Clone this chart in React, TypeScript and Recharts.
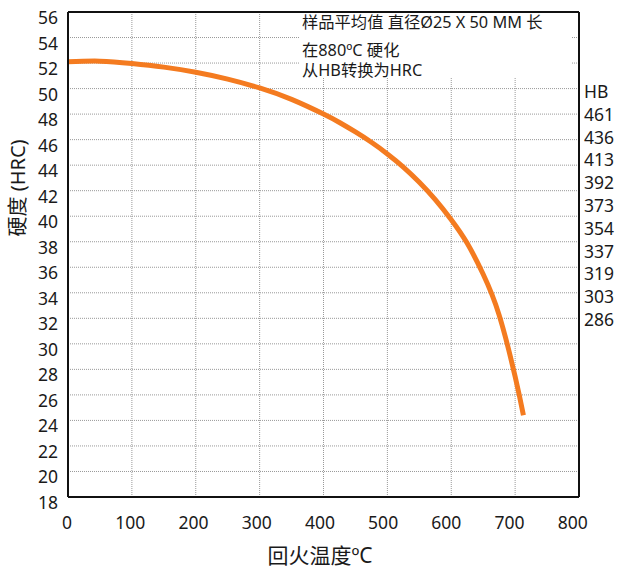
import React from "react";
import {
  LineChart,
  Line,
  XAxis,
  YAxis,
  CartesianGrid,
  ReferenceLine,
  ReferenceArea,
} from "recharts";

const temperatures = [0, 50, 100, 150, 200, 250, 300, 350, 400, 425, 450, 475, 500, 525, 550, 575, 600, 625, 650, 675, 700, 713];
const hardnessHRC = [52.1, 52.15, 51.97, 51.68, 51.28, 50.74, 50.05, 49.15, 48.0, 47.34, 46.6, 45.79, 44.88, 43.85, 42.66, 41.3, 39.73, 37.88, 35.45, 32.25, 27.44, 24.4];
const xTicks = [0, 100, 200, 300, 400, 500, 600, 700, 800];
const yTicks = [18, 20, 22, 24, 26, 28, 30, 32, 34, 36, 38, 40, 42, 44, 46, 48, 50, 52, 54, 56];
const hbLabels = ["HB", "461", "436", "413", "392", "373", "354", "337", "319", "303", "286"];
const noteLines = ["样品平均值 直径Ø25 X 50 MM 长", "在880ºC 硬化", "从HB转换为HRC"];
const xTitle = "回火温度ºC";
const yTitle = "硬度 (HRC)";

const data = temperatures.map((t, i) => ({ t, hrc: hardnessHRC[i] }));

const FONT = "'Noto Sans', 'Noto Sans CJK SC', sans-serif";
const TEXT = "#1a1a1a";

const YTick = (props: any) => {
  const { y, payload } = props;
  return (
    <text x={58} y={y + 5} textAnchor="end" dominantBaseline="central" fontSize={17.5} fill={TEXT} fontFamily={FONT}>
      {payload.value}
    </text>
  );
};

const XTick = (props: any) => {
  const { x, payload } = props;
  return (
    <text
      x={x - 1 - payload.value * 0.0065}
      y={522}
      textAnchor="middle"
      dominantBaseline="central"
      fontSize={17.5}
      fill={TEXT}
      fontFamily={FONT}
    >
      {payload.value}
    </text>
  );
};

export default function App() {
  return (
    <div style={{ position: "absolute", left: 0, top: 0, width: 619, height: 569, background: "#fff" }}>
      <LineChart width={619} height={569} data={data} margin={{ top: 12, right: 40, bottom: 0, left: 0 }}>
        <CartesianGrid stroke="#999" strokeDasharray="1 1" strokeWidth={1} />
        <XAxis
          dataKey="t"
          type="number"
          domain={[0, 800]}
          ticks={xTicks}
          height={72}
          tickLine={false}
          axisLine={{ stroke: "#111", strokeWidth: 2 }}
          tick={<XTick />}
          interval={0}
        />
        <YAxis
          type="number"
          domain={[18, 56]}
          ticks={yTicks}
          width={68}
          tickLine={false}
          axisLine={{ stroke: "#111", strokeWidth: 2 }}
          tick={<YTick />}
          interval={0}
        />
        <ReferenceArea x1={362} x2={788} y1={50.9} y2={56} fill="#fff" fillOpacity={1} stroke="none" />
        <ReferenceLine x={800} stroke="#111" strokeWidth={2} />
        <ReferenceLine y={56} stroke="#111" strokeWidth={2} />
        <Line
          type="natural"
          dataKey="hrc"
          stroke="#F47B20"
          strokeWidth={5}
          dot={false}
          activeDot={false}
          isAnimationActive={false}
        />
      </LineChart>
      <svg width={619} height={569} style={{ position: "absolute", left: 0, top: 0, pointerEvents: "none" }}>
        {noteLines.map((s, i) => (
          <text key={s} x={302} y={[22, 49.5, 69.5][i]} dominantBaseline="central" fontSize={16.3} fill={TEXT} fontFamily={FONT}>
            {s}
          </text>
        ))}
        {hbLabels.map((s, i) => (
          <text key={s} x={584} y={91 + i * 22.8} dominantBaseline="central" fontSize={17.5} fill={TEXT} fontFamily={FONT}>
            {s}
          </text>
        ))}
        <text x={320} y={555} textAnchor="middle" dominantBaseline="central" fontSize={21} fill={TEXT} fontFamily={FONT}>
          {xTitle}
        </text>
        <text
          x={17}
          y={188}
          textAnchor="middle"
          dominantBaseline="central"
          fontSize={20}
          fill={TEXT}
          fontFamily={FONT}
          transform="rotate(-90 17 188)"
        >
          {yTitle}
        </text>
      </svg>
    </div>
  );
}
